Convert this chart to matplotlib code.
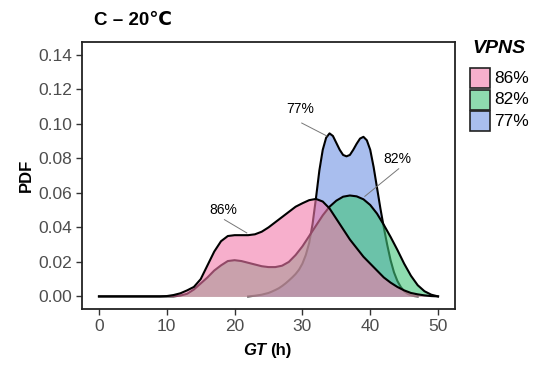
# density curves of GT at 20 C for three VPNS levels

import matplotlib.pyplot as plt
from matplotlib.patches import Rectangle

plt.rcParams['font.family'] = ['Liberation Sans', 'DejaVu Sans']

# values
groups = ['86%', '82%', '77%']
fill_colors = ['#f27aab', '#43c67b', '#7094e3']

gt_86 = list(range(0, 51))
pdf_86 = [0, 0, 0, 0, 0, 0, 0, 0, 0, 0,
          0.0002, 0.0008, 0.0018, 0.0035, 0.0055, 0.010, 0.018, 0.026, 0.032, 0.035,
          0.0355, 0.0355, 0.0355, 0.036, 0.0375, 0.040, 0.043, 0.046, 0.049, 0.052,
          0.054, 0.0558, 0.0565, 0.055, 0.051, 0.045, 0.039, 0.033, 0.028, 0.023,
          0.019, 0.015, 0.011, 0.008, 0.0055, 0.0035, 0.002, 0.0012, 0.0006, 0.0002,
          0]

gt_82 = list(range(0, 51))
pdf_82 = [0, 0, 0, 0, 0, 0, 0, 0, 0, 0,
          0, 0, 0.0005, 0.0015, 0.004, 0.0075, 0.011, 0.015, 0.018, 0.0205,
          0.021, 0.0205, 0.0195, 0.0185, 0.0175, 0.017, 0.017, 0.0178, 0.020, 0.024,
          0.029, 0.035, 0.041, 0.047, 0.052, 0.0555, 0.0578, 0.0585, 0.058, 0.0563,
          0.053, 0.048, 0.0415, 0.0345, 0.027, 0.019, 0.012, 0.0065, 0.003, 0.001,
          0]

gt_77 = [22, 22.5, 23, 23.5, 24, 24.5, 25, 25.5, 26, 26.5,
         27, 27.5, 28, 28.5, 29, 29.5, 30, 30.5, 31, 31.5,
         32, 32.5, 33, 33.5, 34, 34.5, 35, 35.5, 36, 36.5,
         37, 37.5, 38, 38.5, 39, 39.5, 40, 40.5, 41, 41.5,
         42, 42.5, 43, 43.5, 44, 44.5, 45, 45.5, 46, 46.5, 47]
pdf_77 = [0, 0.0002, 0.0004, 0.0007, 0.001, 0.0015, 0.002, 0.0028, 0.0037, 0.0047,
          0.006, 0.0075, 0.0092, 0.011, 0.013, 0.0155, 0.019, 0.024, 0.031, 0.042,
          0.057, 0.073, 0.085, 0.092, 0.0945, 0.093, 0.089, 0.085, 0.082, 0.0812,
          0.082, 0.085, 0.0885, 0.0915, 0.0925, 0.0905, 0.085, 0.075, 0.063, 0.051,
          0.040, 0.030, 0.021, 0.014, 0.009, 0.0055, 0.003, 0.0015, 0.0007, 0.0002, 0]

# label text positions and where their leader lines point
label_text = ['86%', '77%', '82%']
label_xy = [(18.4, 0.050), (29.7, 0.1085), (44.0, 0.0795)]
leader_from = [(18.5, 0.0445), (29.9, 0.1005), (44.2, 0.0740)]
leader_to = [(21.8, 0.0368), (33.6, 0.0930), (39.2, 0.0580)]

xticks = [0, 10, 20, 30, 40, 50]
yticks = [0.00, 0.02, 0.04, 0.06, 0.08, 0.10, 0.12, 0.14]

fig = plt.figure(figsize=(5.37, 3.65), dpi=100)
ax = fig.add_axes([0.1527, 0.1534, 0.6946, 0.7307])

# drawing order: 77% first, then 82%, then 86% on top
series = [(gt_77, pdf_77, fill_colors[2]),
          (gt_82, pdf_82, fill_colors[1]),
          (gt_86, pdf_86, fill_colors[0])]
z = 2
for xs, ys, col in series:
    ax.fill_between(xs, ys, 0, color=col, alpha=0.6, linewidth=0, zorder=z)
    ax.plot(xs, ys, color='black', lw=1.5, zorder=z + 0.5)
    z += 1

for txt, pos, p0, p1 in zip(label_text, label_xy, leader_from, leader_to):
    ax.text(pos[0], pos[1], txt, ha='center', va='center', fontsize=10, zorder=10)
    ax.plot([p0[0], p1[0]], [p0[1], p1[1]], color='#777777', lw=0.7, zorder=10)

ax.set_xlim(-2.5, 52.5)
ax.set_ylim(-0.0073, 0.1473)
ax.set_xticks(xticks)
ax.set_yticks(yticks)
ax.set_yticklabels(['%.2f' % v for v in yticks])
ax.tick_params(direction='out', length=4, width=1, color='#333333',
               labelsize=12.5, labelcolor='#4d4d4d', pad=3)
for s in ax.spines.values():
    s.set_linewidth(1.3)
    s.set_color('#222222')

# title and axis labels
fig.text(0.175, 0.945, 'C – 20℃', fontsize=13.5, fontweight='bold',
         ha='left', va='center')
fig.text(0.05, 0.52, 'PDF', rotation=90, fontsize=12, fontweight='bold',
         ha='center', va='center')
fig.text(0.4953, 0.04, 'GT', fontsize=12, fontweight='bold', style='italic',
         ha='right', va='center')
fig.text(0.5028, 0.04, '(h)', fontsize=12, fontweight='bold',
         ha='left', va='center')

# legend drawn by hand
fig.text(0.880, 0.866, 'VPNS', fontsize=14, fontweight='bold', style='italic',
         ha='left', va='center')
W, H = 537.0, 365.0
for i, (g, col) in enumerate(zip(groups, fill_colors)):
    top = 68 + i * 21.5
    r = Rectangle((470 / W, 1 - (top + 20) / H), 20 / W, 20 / H,
                  transform=fig.transFigure, facecolor=col, alpha=0.6,
                  edgecolor='none')
    fig.patches.append(r)
    fig.patches.append(Rectangle((470 / W, 1 - (top + 20) / H), 20 / W, 20 / H,
                                 transform=fig.transFigure, facecolor='none',
                                 edgecolor='#222222', lw=1.2))
    fig.text(494 / W, 1 - (top + 10.5) / H, g, fontsize=12.5,
             ha='left', va='center')

fig.savefig('out.png', dpi=100)
